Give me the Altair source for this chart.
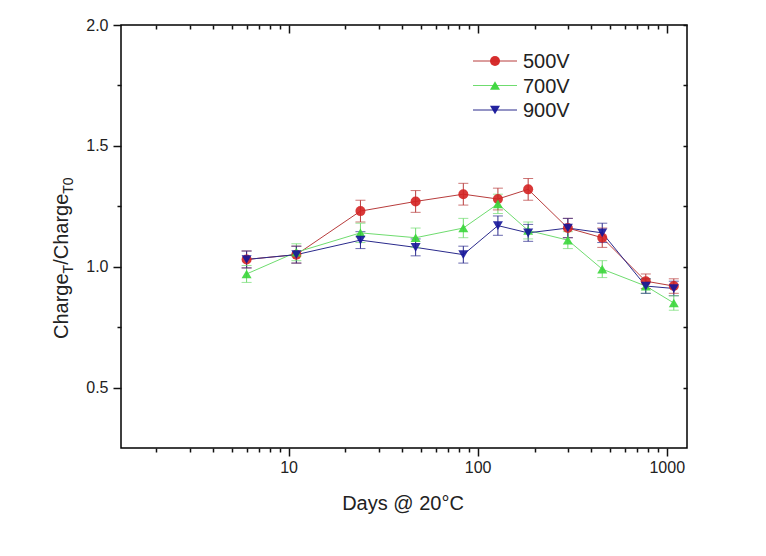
import altair as alt
import pandas as pd

# ---------------- data ----------------
days = [6, 11, 24, 47, 84, 128, 185, 300, 456, 775, 1090]
series = ["500V", "700V", "900V"]

v500 = [1.03, 1.05, 1.23, 1.27, 1.30, 1.28, 1.32, 1.16, 1.12, 0.94, 0.92]
v700 = [0.97, 1.06, 1.14, 1.12, 1.16, 1.26, 1.15, 1.11, 0.99, 0.92, 0.85]
v900 = [1.03, 1.05, 1.11, 1.08, 1.05, 1.17, 1.14, 1.16, 1.14, 0.92, 0.91]

e500 = [0.035, 0.035, 0.045, 0.045, 0.045, 0.045, 0.045, 0.04, 0.04, 0.03, 0.03]
e700 = [0.035, 0.035, 0.04, 0.04, 0.04, 0.04, 0.035, 0.035, 0.035, 0.03, 0.03]
e900 = [0.035, 0.035, 0.035, 0.035, 0.035, 0.04, 0.035, 0.04, 0.04, 0.03, 0.03]

x_major = [10, 100, 1000]
x_minor = [2, 3, 4, 5, 6, 7, 8, 9, 20, 30, 40, 50, 60, 70, 80, 90,
           200, 300, 400, 500, 600, 700, 800, 900]
y_major = [0.5, 1.0, 1.5, 2.0]
y_minor = [0.75, 1.25, 1.75]

line_colors = ["#b83c3c", "#6fdc6f", "#2a2a8c"]
fill_colors = ["#d42222", "#3ad63a", "#16169a"]
shapes = ["circle", "triangle-up", "triangle-down"]

rows = []
for s, vals, errs in zip(series, [v500, v700, v900], [e500, e700, e900]):
    for d, v, e in zip(days, vals, errs):
        rows.append({"series": s, "days": d, "value": v, "lo": v - e, "hi": v + e})
df = pd.DataFrame(rows)

# ---------------- layout ----------------
W, H = 566, 423
FONT = "Liberation Sans"
xs = alt.Scale(type="log", domain=[1.3, 1280])
ys = alt.Scale(domain=[0.25, 2.0])

common = dict(domain=False, grid=False, ticks=True, tickColor="#111111", tickOpacity=1,
              tickWidth=1.5, labelColor="#222222", labelFont=FONT, labelFontSize=16,
              title=None)

ax_x = [
    alt.Axis(orient="bottom", values=x_major, tickSize=8, labelPadding=3, format="d", **common),
    alt.Axis(orient="bottom", values=x_minor, tickSize=4, labels=False, **common),
    alt.Axis(orient="bottom", offset=-H, values=x_major, tickSize=8, labels=False, **common),
    alt.Axis(orient="bottom", offset=-H, values=x_minor, tickSize=4, labels=False, **common),
]
ax_y = [
    alt.Axis(orient="left", values=y_major, tickSize=8, labelPadding=5, format=".1f", **common),
    alt.Axis(orient="left", values=y_minor, tickSize=4, labels=False, **common),
    alt.Axis(orient="left", offset=-W, values=y_major, tickSize=4, labels=False, **common),
    alt.Axis(orient="left", offset=-W, values=y_minor, tickSize=4, labels=False, **common),
]

base = alt.Chart(df)
cscale_line = alt.Scale(domain=series, range=line_colors)
cscale_fill = alt.Scale(domain=series, range=fill_colors)

layers = []
for axx, axy in zip(ax_x, ax_y):
    layers.append(base.mark_point(opacity=0).encode(
        x=alt.X("days:Q", scale=xs, axis=axx),
        y=alt.Y("value:Q", scale=ys, axis=axy)))

lines = base.mark_line(strokeWidth=1).encode(
    x=alt.X("days:Q", scale=xs, axis=None),
    y=alt.Y("value:Q", scale=ys, axis=None),
    color=alt.Color("series:N", scale=cscale_line, legend=None),
    order="days:Q")

err = base.mark_rule(strokeWidth=1).encode(
    x=alt.X("days:Q", scale=xs, axis=None),
    y=alt.Y("lo:Q", scale=ys, axis=None),
    y2="hi:Q",
    color=alt.Color("series:N", scale=cscale_line, legend=None))

cap_lo = base.mark_tick(orient="horizontal", size=10, thickness=1).encode(
    x=alt.X("days:Q", scale=xs, axis=None),
    y=alt.Y("lo:Q", scale=ys, axis=None),
    color=alt.Color("series:N", scale=cscale_line, legend=None))
cap_hi = base.mark_tick(orient="horizontal", size=10, thickness=1).encode(
    x=alt.X("days:Q", scale=xs, axis=None),
    y=alt.Y("hi:Q", scale=ys, axis=None),
    color=alt.Color("series:N", scale=cscale_line, legend=None))

pts = base.mark_point(filled=True, size=100, opacity=0.9).encode(
    x=alt.X("days:Q", scale=xs, axis=None),
    y=alt.Y("value:Q", scale=ys, axis=None),
    color=alt.Color("series:N", scale=cscale_fill, legend=None),
    shape=alt.Shape("series:N", scale=alt.Scale(domain=series, range=shapes), legend=None))

layers += [lines, err, cap_lo, cap_hi, pts]

# ---------------- legend (manual) ----------------
for i, s in enumerate(series):
    ly = 36 + 24.5 * i
    one = alt.Chart(pd.DataFrame({"series": [s]}))
    layers.append(one.mark_rule(color=line_colors[i], strokeWidth=1).encode(
        x=alt.value(352), x2=alt.value(396), y=alt.value(ly)))
    layers.append(one.mark_point(filled=True, size=100, opacity=0.95, shape=shapes[i],
                                 color=fill_colors[i]).encode(
        x=alt.value(374), y=alt.value(ly)))
    layers.append(one.mark_text(text=s, font=FONT, fontSize=20, align="left",
                                baseline="middle", color="#222222").encode(
        x=alt.value(402), y=alt.value(ly + 1)))

# ---------------- titles ----------------
dummy = alt.Chart(pd.DataFrame({"t": [0]}))
layers.append(dummy.mark_text(text="Days @ 20°C", font=FONT, fontSize=20, align="center",
                              baseline="alphabetic", color="#222222").encode(
    x=alt.value(282), y=alt.value(485)))

pieces = [("Charge", 20, 0), ("T", 14, 5), ("/", 20, 0), ("Charge", 20, 0), ("T0", 14, 5)]
cw = {"C": .722, "h": .556, "a": .556, "r": .333, "g": .556, "e": .556,
      "T": .611, "/": .278, "0": .556}
ypos = 314.0
for txt, fs, sh in pieces:
    layers.append(dummy.mark_text(text=txt, font=FONT, fontSize=fs, angle=270, align="left",
                                  baseline="alphabetic", color="#222222").encode(
        x=alt.value(-53 + sh), y=alt.value(ypos)))
    ypos -= sum(cw[c] for c in txt) * fs

chart = alt.layer(*layers).resolve_axis(x="independent", y="independent").resolve_scale(
    color="independent").properties(
    width=W, height=H,
    autosize=alt.AutoSizeParams(type="none"),
    padding={"left": 113, "top": 17, "right": 70, "bottom": 90},
    background="white",
).configure_view(stroke="black", strokeWidth=1.5)

chart.save("out.html", embed_options={"renderer": "svg", "actions": False})
